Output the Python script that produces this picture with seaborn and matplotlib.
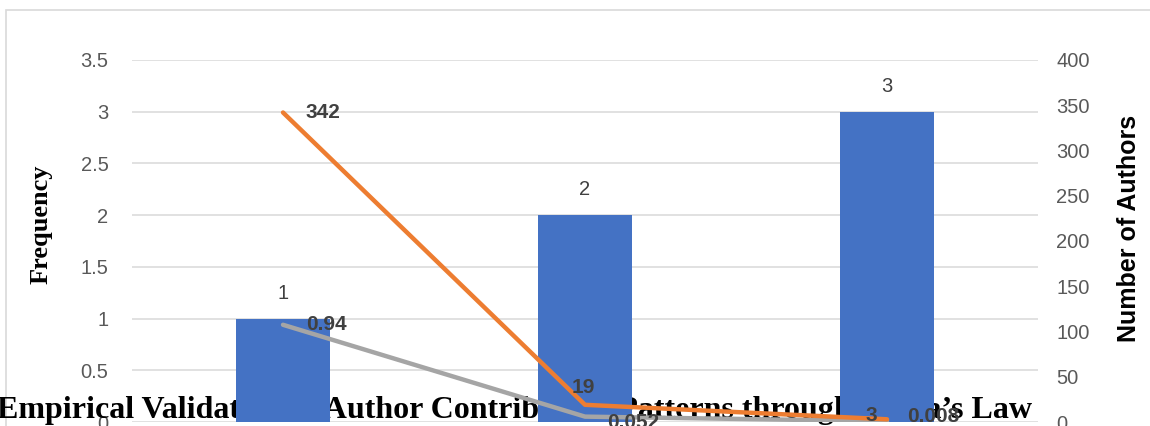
import matplotlib
matplotlib.use("Agg")
import matplotlib.pyplot as plt
from matplotlib.patches import Rectangle
import seaborn as sns
import pandas as pd

# Lotka's law data: articles per author vs. frequency and author counts
articles = ["1", "2", "3"]
frequency = [1, 2, 3]
authors = [342, 19, 3]
proportion = [0.94, 0.052, 0.008]

title = "Empirical Validation of Author Contribution Patterns through Lotka\u2019s Law"

BLUE = "#4472C4"
ORANGE = "#ED7D31"
GRAY = "#A5A5A5"
GRID = "#D9D9D9"
TICK = "#595959"
LABEL = "#404040"

sns.set_theme(style="white")
plt.rcParams["font.family"] = ["Liberation Sans", "DejaVu Sans"]

df = pd.DataFrame({"articles": articles, "frequency": frequency,
                   "authors": authors, "proportion": proportion})

fig = plt.figure(figsize=(11.5, 4.26), dpi=100)
fig.patch.set_facecolor("white")

# chart frame
fig.add_artist(Rectangle((6 / 1150, -0.1), 1.2, 1 - 10 / 426 + 0.1,
                         transform=fig.transFigure, fill=False,
                         edgecolor=GRID, linewidth=1.2, zorder=0))

ax = fig.add_axes([132 / 1150, 1 - 422 / 426, 906 / 1150, 362 / 426])
ax.set_facecolor("none")

sns.barplot(data=df, x="articles", y="frequency", color=BLUE, width=0.31,
            saturation=1, linewidth=0, ax=ax, zorder=2)
for bar, v in zip(ax.patches, frequency):
    ax.annotate(f"{v}", (bar.get_x() + bar.get_width() / 2, v),
                xytext=(0, 16), textcoords="offset pixels", ha="center",
                va="bottom", fontsize=14.5, color=LABEL, zorder=5)

sns.lineplot(data=df, x="articles", y="proportion", color=GRAY,
             linewidth=3.2, ax=ax, zorder=3, sort=False)

ax.set_ylim(0, 3.5)
ax.set_yticks([0, 0.5, 1, 1.5, 2, 2.5, 3, 3.5])
ax.set_yticklabels(["0", "0.5", "1", "1.5", "2", "2.5", "3", "3.5"])
ax.set_xlim(-0.5, 2.5)
ax.grid(axis="y", color=GRID, linewidth=1.1)
ax.set_axisbelow(True)
for s in ax.spines.values():
    s.set_visible(False)
ax.tick_params(axis="y", length=0, pad=17, labelsize=14.5, labelcolor=TICK)
ax.tick_params(axis="x", length=0, labelbottom=False)
ax.set_xlabel("")
ax.set_ylabel("Frequency", fontsize=19, fontweight="bold",
              family=["Liberation Serif", "DejaVu Serif"], color="black")
ax.yaxis.set_label_coords(-0.088, 0.545)

# title sits behind the bars and lines
ax.text(-3 / 1150, 8 / 426, title, transform=fig.transFigure,
        family=["Liberation Serif", "DejaVu Serif"], fontweight="bold",
        fontsize=23, color="black", ha="left", va="baseline", zorder=1.5,
        clip_on=False)

ax2 = ax.twinx()
ax2.set_facecolor("none")
sns.lineplot(data=df, x="articles", y="authors", color=ORANGE,
             linewidth=3.2, ax=ax2, zorder=3, sort=False)
ax2.set_ylim(0, 400)
ax2.set_yticks(range(0, 401, 50))
for s in ax2.spines.values():
    s.set_visible(False)
ax2.tick_params(axis="y", length=0, pad=13, labelsize=14.5, labelcolor=TICK)
ax2.set_ylabel("Number of Authors", fontsize=18, fontweight="bold",
               color="black", rotation=90)
ax2.yaxis.set_label_coords(1.087, 0.535)
ax2.grid(False)

# data labels for the lines (offsets in pixels)
orange_offsets = [((23, 0), "left", "center"), ((-2, 8), "center", "bottom"),
                  ((-10, 4), "right", "center")]
gray_offsets = [((23, 0), "left", "center"), ((22, -6), "left", "center"),
                ((20, 5), "left", "center")]
for i, v in enumerate(authors):
    (dx, dy), ha, va = orange_offsets[i]
    ax2.annotate(f"{v}", (i, v), xytext=(dx, dy), textcoords="offset pixels",
                 ha=ha, va=va, fontsize=15, fontweight="bold", color=LABEL,
                 zorder=5, annotation_clip=False)
for i, v in enumerate(proportion):
    (dx, dy), ha, va = gray_offsets[i]
    y2 = v / 3.5 * 400
    ax2.annotate(f"{v:g}", (i, y2), xytext=(dx, dy), textcoords="offset pixels",
                 ha=ha, va=va, fontsize=15, fontweight="bold", color=LABEL,
                 zorder=5, annotation_clip=False)

fig.savefig("out.png", dpi=100)
